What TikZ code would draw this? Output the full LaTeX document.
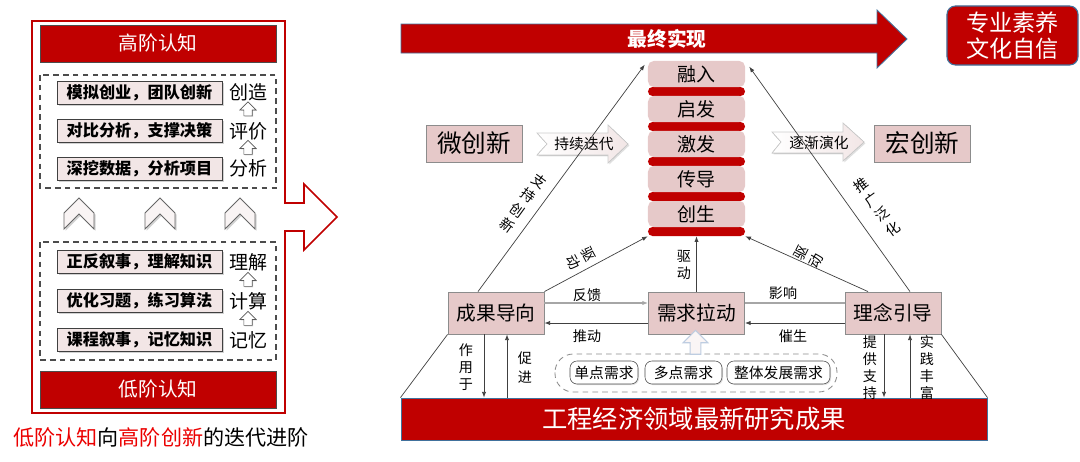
\documentclass[tikz,border=0pt]{standalone}
\usepackage{fontspec}
\setmainfont{Noto Sans CJK SC}
\usetikzlibrary{arrows.meta,shapes.arrows,shadows}

\definecolor{deepred}{RGB}{192,0,0}
\definecolor{rosefill}{RGB}{230,201,201}
\definecolor{palerose}{RGB}{242,230,230}
\definecolor{edgeblue}{RGB}{65,113,156}
\definecolor{linegray}{RGB}{64,64,64}
\definecolor{brightred}{RGB}{235,0,0}
\definecolor{paleblue}{RGB}{190,205,225}

\tikzset{
  levelbar/.style={fill=deepred, draw=black!70, minimum width=5.9cm, minimum height=0.925cm,
    inner sep=1pt, text=white, font=\fontsize{14}{16}\selectfont},
  leftbox/.style={draw=black!75, fill=palerose, line width=0.6pt, minimum width=4.125cm,
    minimum height=0.575cm, inner sep=0pt, font=\bfseries\fontsize{11.5}{12}\selectfont,
    drop shadow={shadow xshift=1.2pt, shadow yshift=-1.2pt, opacity=0.35}},
  levellabel/.style={font=\fontsize{13.5}{14}\selectfont, inner sep=0pt},
  upmark/.style={single arrow, shape border rotate=90, draw=black!65, fill=white,
    minimum height=10pt, inner sep=2.8pt, single arrow head extend=2.8pt,
    drop shadow={shadow xshift=0.6pt, shadow yshift=-0.6pt, opacity=0.3}},
  chevmark/.style={draw=black!60, fill=palerose!45, line width=0.6pt,
    drop shadow={shadow xshift=1.2pt, shadow yshift=-1.2pt, opacity=0.35}},
  dashbox/.style={draw=black!70, line width=0.8pt, dash pattern=on 4pt off 3pt},
  stagebox/.style={fill=rosefill, rounded corners=4pt, minimum width=2.425cm,
    minimum height=0.65cm, inner sep=1pt, font=\fontsize{13.5}{14}\selectfont},
  stagebar/.style={fill=deepred, rounded corners=3.2pt, minimum width=2.425cm,
    minimum height=0.225cm, inner sep=0pt},
  rosebox/.style={draw=black!45, fill=rosefill, line width=0.6pt, inner sep=1pt,
    minimum width=2.4cm},
  driftarrow/.style={left color=white, right color=palerose, draw=black!20, line width=0.5pt,
    drop shadow={shadow xshift=1pt, shadow yshift=-1pt, opacity=0.25}},
  flowtext/.style={font=\fontsize{10.5}{12}\selectfont, inner sep=0pt},
  needbox/.style={draw=black!70, fill=white, rounded corners=5pt, minimum height=0.575cm,
    inner sep=1pt, font=\fontsize{10.5}{12}\selectfont,
    drop shadow={shadow xshift=0.8pt, shadow yshift=-0.8pt, opacity=0.25}},
  pusharrow/.style={single arrow, shape border rotate=90, draw=paleblue, line width=0.8pt,
    fill=palerose!40, minimum height=17pt, inner sep=3.4pt, single arrow head extend=5pt},
  link/.style={draw=linegray, line width=0.5pt, -{Latex[length=4pt,width=3pt]}},
  softlink/.style={draw=black!35, line width=1pt, -{Latex[length=4pt,width=3pt]}},
  wire/.style={draw=linegray, line width=0.5pt},
  softwire/.style={draw=black!35, line width=1pt},
  tag/.style={align=center, font=\fontsize{10}{12}\selectfont, inner sep=0pt}
}

\begin{document}
\begin{tikzpicture}[x=0.025cm,y=-0.025cm]
\useasboundingbox (0,0) rectangle (1080,461);

% left panel: from low to high cognition
\draw[deepred, line width=1.1pt, fill=white] (32,21) -- (285,21) -- (285,203) -- (304,203)
  -- (304,184) -- (337,217) -- (304,250) -- (304,231) -- (285,231) -- (285,413) -- (32,413) -- cycle;

\node[levelbar] (hi) at (158,43.5) {高阶认知};
\node[levelbar] (lo) at (158,389.5) {低阶认知};

\draw[dashbox] (40,75) rectangle (276,188);
\draw[dashbox] (40,242) rectangle (276,360);

\foreach \y/\txt/\lab/\nm in {92.5/模拟创业，团队创新/创造/h1, 131/对比分析，支撑决策/评价/h2,
    168.5/深挖数据，分析项目/分析/h3, 262/正反叙事，理解知识/理解/h4,
    301/优化习题，练习算法/计算/h5, 340/课程叙事，记忆知识/记忆/h6} {
  \node[leftbox] (\nm) at (139.5,\y) {\txt};
  \node[levellabel] (\nm l) at (248,\y) {\lab};
}

\node[upmark] (u1) at (248,111) {};
\node[upmark] (u2) at (248,149.5) {};
\node[upmark] (u3) at (248,281.5) {};
\node[upmark] (u4) at (248,320.5) {};

\foreach \cx in {79,160,240}
  \filldraw[chevmark] (\cx,198) -- (\cx+15,213) -- (\cx+15,229) -- (\cx,214)
    -- (\cx-15,229) -- (\cx-15,213) -- cycle;

\node[font=\fontsize{15}{16}\selectfont, inner sep=0pt] (cap) at (161,437)
  {\textcolor{brightred}{低阶认知}向\textcolor{brightred}{高阶创新}的迭代进阶};

% top arrow and goal
\filldraw[fill=deepred, draw=edgeblue, line width=0.6pt] (401,24) -- (877,24) -- (877,10)
  -- (907,39) -- (877,68) -- (877,53) -- (401,53) -- cycle;
\node[text=white, font=\bfseries\fontsize{14}{16}\selectfont] (fin) at (667,38.5) {最终实现};

\node[fill=deepred, draw=edgeblue, line width=0.8pt, rounded corners=6pt, minimum width=3.275cm,
  minimum height=1.475cm, inner sep=1pt, align=center, text=white,
  font=\fontsize{16.5}{19}\selectfont] (goal) at (1012.5,35.5) {专业素养\\文化自信};

% stage stack
\foreach \i/\txt in {1/融入,2/启发,3/激发,4/传导,5/创生} {
  \node[stagebar] (bar\i) at (696.5,{91.5+35*(\i-1)}) {};
  \node[stagebox] (stage\i) at (696.5,{74+35*(\i-1)}) {\txt};
}

% micro / macro innovation
\node[rosebox, minimum height=0.925cm, font=\fontsize{17.5}{19}\selectfont] (micro) at (474,143.5) {微创新};
\node[rosebox, minimum height=0.925cm, font=\fontsize{17.5}{19}\selectfont] (macro) at (922.5,143.5) {宏创新};

\filldraw[driftarrow] (537,133) -- (608,133) -- (608,125) -- (628,144) -- (608,163)
  -- (608,155) -- (537,155) -- (547,144) -- cycle;
\node[flowtext] (iter) at (584,144) {持续迭代};
\filldraw[driftarrow] (772,132) -- (843,132) -- (843,123) -- (864,142) -- (843,161)
  -- (843,153) -- (772,153) -- (781,142) -- cycle;
\node[flowtext] (evol) at (819,142.5) {逐渐演化};

% triangle of drivers
\node[rosebox, minimum height=1.05cm, font=\fontsize{14}{16}\selectfont] (cg) at (496,313) {成果导向};
\node[rosebox, minimum height=1.05cm, font=\fontsize{14}{16}\selectfont] (xq) at (696.5,313) {需求拉动};
\node[rosebox, minimum height=1.05cm, font=\fontsize{14}{16}\selectfont] (ln) at (893,313) {理念引导};

\node[fill=deepred, draw=edgeblue, line width=0.6pt, minimum width=14.65cm, minimum height=1.05cm,
  inner sep=1pt, text=white, font=\fontsize{18}{20}\selectfont] (base) at (694,419) {工程经济领域最新研究成果};

\draw[dashbox, draw=black!45, line width=0.6pt, rounded corners=13pt] (555,354) rectangle (837,392);
\node[needbox, minimum width=1.7cm] (n1) at (604,372.5) {单点需求};
\node[needbox, minimum width=1.925cm] (n2) at (683.5,372.5) {多点需求};
\node[needbox, minimum width=2.575cm] (n3) at (778.5,372.5) {整体发展需求};
\node[pusharrow] (push) at (695.5,345) {};

% connectors
\draw[link] ([xshift=-0.45cm]cg.north) -- ([xshift=-0.075cm,yshift=-0.1cm]stage1.north west);
\draw[link] ([xshift=0.425cm]ln.north) -- ([xshift=0.1cm,yshift=-0.15cm]stage1.north east);
\draw[link] (cg.north east) -- (bar5.south west);
\draw[link] ([xshift=-0.625cm]ln.north) -- (bar5.south east);
\draw[link] (xq.north) -- (bar5.south);
\draw[softlink] ([yshift=0.25cm]cg.east) -- ([yshift=0.25cm]xq.west);
\draw[link] ([yshift=-0.25cm]xq.west) -- ([yshift=-0.25cm]cg.east);
\draw[softwire] ([yshift=0.25cm]ln.west) -- ([yshift=0.25cm]xq.east);
\draw[link] ([yshift=-0.25cm]ln.west) -- ([yshift=-0.25cm]xq.east);
\draw[link] ([xshift=-0.3cm]cg.south) -- ([xshift=-0.3cm]cg.south |- base.north);
\draw[link] ([xshift=0.275cm]cg.south |- base.north) -- ([xshift=0.275cm]cg.south);
\draw[link] ([xshift=-0.225cm]ln.south) -- ([xshift=-0.225cm]ln.south |- base.north);
\draw[link] ([xshift=0.425cm]ln.south |- base.north) -- ([xshift=0.425cm]ln.south);
\draw[wire] (cg.south west) -- (base.north west);
\draw[wire] (ln.south east) -- (base.north east);

% connector labels
\node[tag, rotate=-36, font=\fontsize{10}{12.8}\selectfont] (t1) at (523,203) {支\\持\\创\\新};
\node[tag, rotate=36, font=\fontsize{10}{12.8}\selectfont] (t2) at (877,207) {推\\广\\泛\\化};
\node[tag, rotate=-62] (t3) at (581,258) {驱\\动};
\node[tag, rotate=63] (t4) at (809,257) {驱\\动};
\node[tag] (t5) at (684,265) {驱\\动};
\node[tag] (t6) at (587,295) {反馈};
\node[tag] (t7) at (587,336) {推动};
\node[tag] (t8) at (783,293) {影响};
\node[tag] (t9) at (793,336) {催生};
\node[tag] (t10) at (466,367) {作\\用\\于};
\node[tag, font=\fontsize{10}{13.5}\selectfont] (t11) at (525,367.5) {促\\进};
\node[tag] (t12) at (870,367.5) {提\\供\\支\\持};
\node[tag] (t13) at (927,367.5) {实\\践\\丰\\富};
\end{tikzpicture}
\end{document}
